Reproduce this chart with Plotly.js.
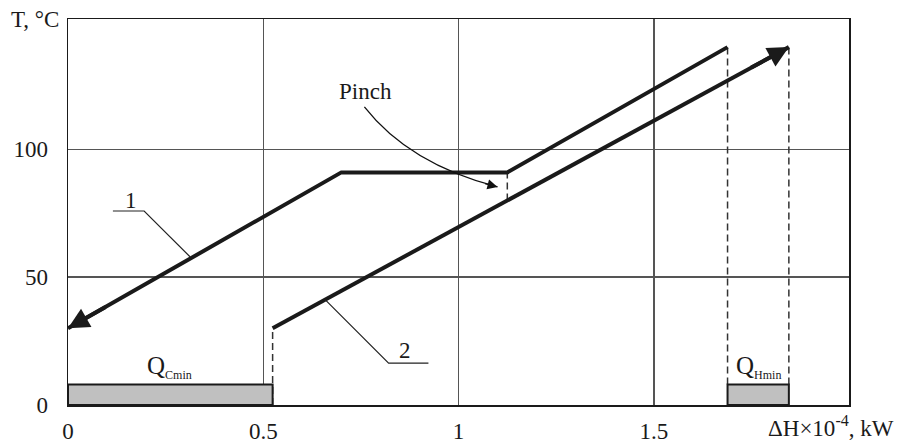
<!DOCTYPE html>
<html>
<head>
<meta charset="utf-8">
<script src="https://cdn.plot.ly/plotly-3.0.1.min.js"></script>
<style>html,body{margin:0;padding:0;background:#fff;}#chart{width:899px;height:444px;}</style>
</head>
<body>
<div id="chart"></div>
<script>
// ---- data ----
const hotDH  = [0, 0.7, 1.125, 1.689];   // hot composite curve (1), ΔH×10^-4 kW
const hotT   = [30, 91, 91, 140];        // °C
const coldDH = [0.524, 1.846];           // cold composite curve (2)
const coldT  = [30, 140];
const pinchColdT = 80;                   // cold curve temperature under the pinch
const qCminDH = [0, 0.524];              // cold utility bar
const qHminDH = [1.689, 1.846];          // hot utility bar
const qBarT = 8;
const xTickVals = [0, 0.5, 1, 1.5];
const xTickText = ['0', '0.5', '1', '1.5'];
const yTickVals = [0, 50, 100];
const yTickText = ['0', '50', '100'];

const FONT = 'Liberation Serif, Times New Roman, serif';
const INK = '#1a1a1a';
const dashStyle = {color: '#333', width: 1.5, dash: '7px,4px'};

function vline(x, y0, y1) {
  return {x: [x, x], y: [y0, y1], mode: 'lines', line: dashStyle, hoverinfo: 'skip', showlegend: false};
}

const traces = [
  vline(coldDH[0], 0, coldT[0]),
  vline(hotDH[3], qBarT, hotT[3]),
  vline(coldDH[1], qBarT, coldT[1]),
  vline(hotDH[2], pinchColdT, hotT[2]),
  {x: hotDH, y: hotT, mode: 'lines', line: {color: INK, width: 4}, showlegend: false, hoverinfo: 'skip'},
  {x: coldDH, y: coldT, mode: 'lines', line: {color: INK, width: 4}, showlegend: false, hoverinfo: 'skip'}
];

const hotSlope0 = (hotT[1] - hotT[0]) / (hotDH[1] - hotDH[0]);
const coldSlope = (coldT[1] - coldT[0]) / (coldDH[1] - coldDH[0]);

const shapes = [
  {type: 'rect', xref: 'x', yref: 'y', x0: qCminDH[0], x1: qCminDH[1], y0: 0, y1: qBarT,
   fillcolor: '#c0c0c0', line: {color: INK, width: 2}, layer: 'above'},
  {type: 'rect', xref: 'x', yref: 'y', x0: qHminDH[0], x1: qHminDH[1], y0: 0, y1: qBarT,
   fillcolor: '#c0c0c0', line: {color: INK, width: 2}, layer: 'above'},
  // leader for label 1
  {type: 'path', xref: 'x', yref: 'y', path: 'M0.115,75.9 L0.195,75.9 L0.313,57.9', line: {color: '#222', width: 1.2}},
  // leader for label 2
  {type: 'path', xref: 'x', yref: 'y', path: 'M0.923,16.4 L0.821,16.4 L0.659,41.1', line: {color: '#222', width: 1.2}},
  // pinch curved pointer
  {type: 'path', xref: 'x', yref: 'y', path: 'M0.759,116.6 Q0.874,94.2 1.1,85.3', line: {color: '#111', width: 1.3}}
];

const annotations = [
  // arrowheads on composite curves
  {x: hotDH[0], y: hotT[0], ax: hotDH[0] + 0.1, ay: hotT[0] + 0.1 * hotSlope0, xref: 'x', yref: 'y', axref: 'x', ayref: 'y',
   text: '', showarrow: true, arrowhead: 2, arrowsize: 1.05, arrowwidth: 4, arrowcolor: INK},
  {x: coldDH[1], y: coldT[1], ax: coldDH[1] - 0.1, ay: coldT[1] - 0.1 * coldSlope, xref: 'x', yref: 'y', axref: 'x', ayref: 'y',
   text: '', showarrow: true, arrowhead: 2, arrowsize: 1.05, arrowwidth: 4, arrowcolor: INK},
  // pinch arrowhead
  {x: 1.1, y: 85.3, ax: -14, ay: -3.6, xref: 'x', yref: 'y', text: '', showarrow: true,
   arrowhead: 2, arrowsize: 1.55, arrowwidth: 1.3, arrowcolor: '#111'},
  {x: 0.762, y: 122.5, xref: 'x', yref: 'y', text: 'Pinch', showarrow: false, font: {family: FONT, size: 23, color: INK}},
  {x: 0.162, y: 80, xref: 'x', yref: 'y', text: '1', showarrow: false, font: {family: FONT, size: 23, color: INK}},
  {x: 0.864, y: 21.5, xref: 'x', yref: 'y', text: '2', showarrow: false, font: {family: FONT, size: 23, color: INK}},
  {x: 0.259, y: 15, xref: 'x', yref: 'y', text: 'Q<sub><span style="font-size:12px">Cmin</span></sub>', showarrow: false,
   font: {family: FONT, size: 25, color: INK}},
  {x: 1.769, y: 15, xref: 'x', yref: 'y', text: 'Q<sub><span style="font-size:12px">Hmin</span></sub>', showarrow: false,
   font: {family: FONT, size: 25, color: INK}},
  // axis titles (paper coords)
  {x: (35 - 68) / 781, y: 1, xref: 'paper', yref: 'paper', xanchor: 'center', yanchor: 'middle',
   text: 'T, °C', showarrow: false, font: {family: FONT, size: 23, color: INK}},
  {x: (831 - 68) / 781, y: -(426 - 405) / 386, xref: 'paper', yref: 'paper', xanchor: 'center', yanchor: 'middle',
   text: 'ΔH×10<sup>-4</sup>, kW', showarrow: false, font: {family: FONT, size: 23, color: INK}}
];

const layout = {
  width: 899, height: 444,
  margin: {l: 68, r: 50, t: 19, b: 39},
  paper_bgcolor: '#fff', plot_bgcolor: '#fff',
  showlegend: false,
  xaxis: {
    range: [0, 2], tickvals: xTickVals, ticktext: xTickText, ticks: '', ticklabelstandoff: 5,
    showgrid: true, gridcolor: '#555', gridwidth: 1.5, zeroline: false,
    showline: true, linecolor: INK, linewidth: 1.5, mirror: true,
    tickfont: {family: FONT, size: 23, color: INK}, fixedrange: true
  },
  yaxis: {
    range: [0, 151], tickvals: yTickVals, ticktext: yTickText, ticks: '', ticklabelstandoff: 14,
    showgrid: true, gridcolor: '#555', gridwidth: 1.5, zeroline: false,
    showline: true, linecolor: INK, linewidth: 1.5, mirror: true,
    tickfont: {family: FONT, size: 23, color: INK}, fixedrange: true
  },
  shapes: shapes,
  annotations: annotations
};

Plotly.newPlot('chart', traces, layout, {displayModeBar: false, staticPlot: true});
</script>
</body>
</html>
